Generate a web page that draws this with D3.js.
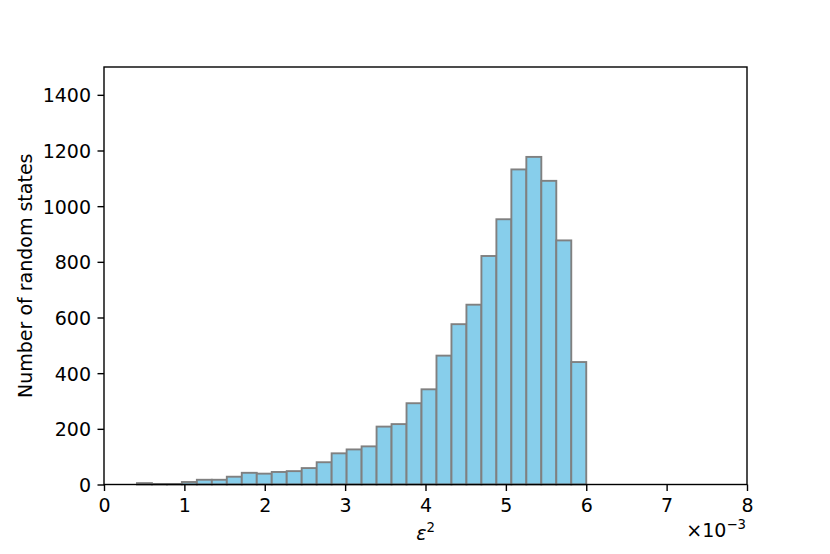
<!DOCTYPE html>
<html>
<head>
<meta charset="utf-8">
<script src="https://cdn.jsdelivr.net/npm/d3@7"></script>
<style>
  html, body { margin: 0; padding: 0; background: #fff; }
  svg { display: block; font-family: "DejaVu Sans", sans-serif; }
</style>
</head>
<body>
<svg id="chart" width="830" height="554"></svg>
<script>
// ---- data ----
const binMin = 0.41;      // ×10^-3
const binMax = 6.0;       // ×10^-3
const counts = [5, 2, 2, 9, 17, 17, 28, 42, 39, 45, 48, 59, 80, 112, 126, 137,
                208, 217, 292, 342, 463, 576, 646, 821, 953, 1132, 1177, 1091, 877, 440];
const xTicks = [0, 1, 2, 3, 4, 5, 6, 7, 8];
const yTicks = [0, 200, 400, 600, 800, 1000, 1200, 1400];
const xDomain = [0, 8];
const yDomain = [0, 1500];
const xLabel = "ε";
const yLabel = "Number of random states";

// ---- layout ----
const FS = 19;
const svg = d3.select("#chart");
const m = { left: 104, right: 747, top: 67, bottom: 484.5 };

const x = d3.scaleLinear().domain(xDomain).range([m.left, m.right]);
const y = d3.scaleLinear().domain(yDomain).range([m.bottom, m.top]);

const binW = (binMax - binMin) / counts.length;
const bins = counts.map((c, i) => ({ x0: binMin + i * binW, x1: binMin + (i + 1) * binW, n: c }));

// bars
svg.append("g").selectAll("rect").data(bins).join("rect")
  .attr("x", d => x(d.x0))
  .attr("y", d => y(d.n))
  .attr("width", d => x(d.x1) - x(d.x0))
  .attr("height", d => y(0) - y(d.n))
  .attr("fill", "#87ceeb")
  .attr("stroke", "#808080")
  .attr("stroke-width", 1.9);

// axes
const fmt = d3.format("d");
const xAxis = d3.axisBottom(x).tickValues(xTicks).tickFormat(fmt).tickSize(6.5).tickPadding(6.5);
const yAxis = d3.axisLeft(y).tickValues(yTicks).tickFormat(fmt).tickSize(6.5).tickPadding(6.5);

const gx = svg.append("g").attr("transform", `translate(0,${m.bottom})`).call(xAxis);
const gy = svg.append("g").attr("transform", `translate(${m.left},0)`).call(yAxis);
[gx, gy].forEach(g => {
  g.select(".domain").remove();
  g.selectAll(".tick line").attr("stroke", "#000").attr("stroke-width", 1.4);
  g.selectAll(".tick text").attr("fill", "#000").attr("font-size", FS)
    .attr("font-family", "DejaVu Sans, sans-serif");
});
gx.selectAll(".tick text").attr("y", 27.5).attr("dy", 0);
gy.selectAll(".tick text").attr("dy", "0.36em");

// frame
svg.append("rect")
  .attr("x", m.left).attr("y", m.top)
  .attr("width", m.right - m.left).attr("height", m.bottom - m.top)
  .attr("fill", "none").attr("stroke", "#000").attr("stroke-width", 1.4);

// x label: ε²
const xl = svg.append("text")
  .attr("x", (m.left + m.right) / 2).attr("y", 540)
  .attr("text-anchor", "middle").attr("font-size", FS).attr("fill", "#000");
xl.append("tspan").attr("font-style", "italic").text(xLabel);
xl.append("tspan").attr("font-size", 13.3).attr("dy", -8).text("2");

// offset text ×10^-3
const off = svg.append("text")
  .attr("x", m.right - 1).attr("y", 537)
  .attr("text-anchor", "end").attr("font-size", FS).attr("fill", "#000");
off.append("tspan").text("×10");
off.append("tspan").attr("font-size", 13.3).attr("dy", -8).text("−3");

// y label
svg.append("text")
  .attr("transform", `translate(32,${(m.top + m.bottom) / 2}) rotate(-90)`)
  .attr("text-anchor", "middle").attr("font-size", FS).attr("fill", "#000")
  .text(yLabel);
</script>
</body>
</html>
